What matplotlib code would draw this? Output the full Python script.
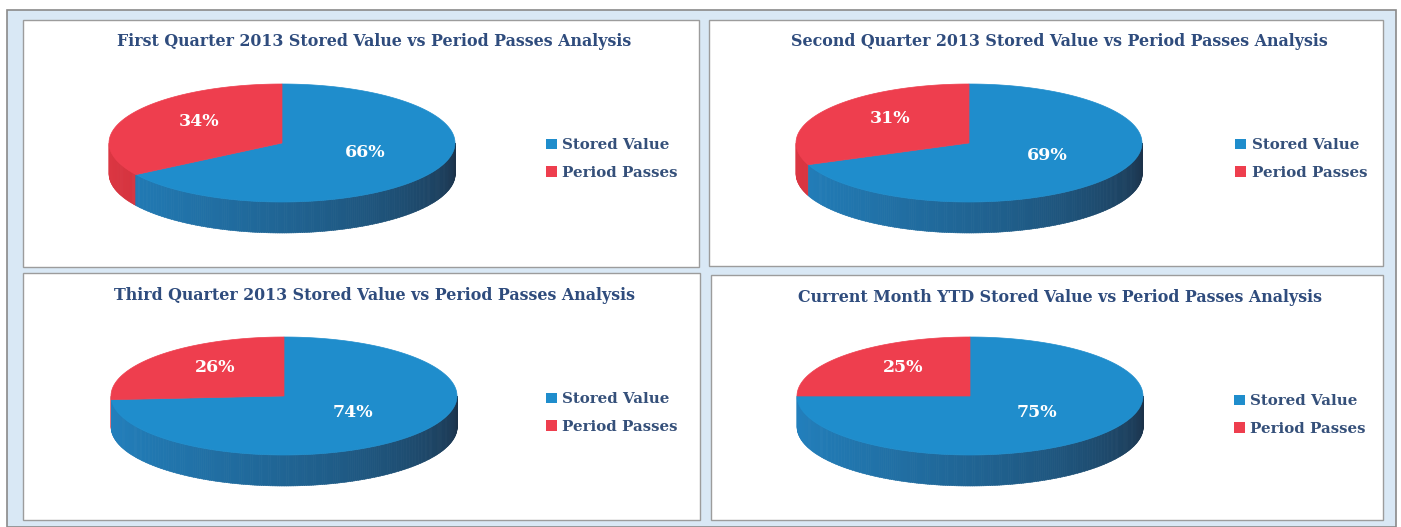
import numpy as np
import matplotlib
matplotlib.use("Agg")
import matplotlib.pyplot as plt
from matplotlib.patches import Polygon, Rectangle, Patch
from matplotlib.legend import Legend
from matplotlib.colors import to_rgb

# ---------------- data ----------------
titles = [
    "First Quarter 2013 Stored Value vs Period Passes Analysis",
    "Second Quarter 2013 Stored Value vs Period Passes Analysis",
    "Third Quarter 2013 Stored Value vs Period Passes Analysis",
    "Current Month YTD Stored Value vs Period Passes Analysis",
]
categories = ["Stored Value", "Period Passes"]
stored_value = [66, 69, 74, 75]
period_passes = [34, 31, 26, 25]

# ---------------- style / layout ----------------
W, H = 1401, 527
BLUE = "#1f8dcc"
RED = "#ee3e4e"
WALL_BLUE_L = "#2280bd"
WALL_BLUE_R = "#1c3249"
WALL_RED_L = "#dc3642"
WALL_RED_R = "#7a1e25"
TITLE_C = "#2f4c7d"
LEG_C = "#35507a"
BAND = "#d9e8f5"

# panel boxes (x0, y0, x1, y1) in pixels, and pie geometry
panels = [
    dict(box=(23, 20, 699, 267), cx=282, cy=143, title_y=41, leg=(548, 146)),
    dict(box=(709, 20, 1383, 266), cx=969, cy=143, title_y=41, leg=(1237, 146)),
    dict(box=(23, 273, 700, 520), cx=284, cy=396, title_y=296, leg=(548, 400)),
    dict(box=(711, 275, 1383, 520), cx=970, cy=396, title_y=298, leg=(1236, 402)),
]
A, B, DEPTH = 173, 59, 31

fig = plt.figure(figsize=(W / 100, H / 100), dpi=100)
ax = fig.add_axes([0, 0, 1, 1])
ax.set_xlim(0, W)
ax.set_ylim(H, 0)
ax.axis("off")

# background band and outer border
ax.add_patch(Rectangle((7, 10), W - 12, H - 10, facecolor=BAND, edgecolor="#8a8a8a", lw=1.2, zorder=0))


def mix(c1, c2, t):
    a, b = np.array(to_rgb(c1)), np.array(to_rgb(c2))
    return tuple(a + (b - a) * t)


def pt(cx, cy, t):
    r = np.deg2rad(t)
    return cx + A * np.cos(r), cy - B * np.sin(r)


for i, p in enumerate(panels):
    x0, y0, x1, y1 = p["box"]
    ax.add_patch(Rectangle((x0, y0), x1 - x0, y1 - y0, facecolor="white",
                           edgecolor="#9c9c9c", lw=1.0, zorder=1))
    ax.text((x0 + x1) / 2 + 13, p["title_y"], titles[i], ha="center", va="center",
            fontsize=11.4, fontweight="bold", family="DejaVu Serif", color=TITLE_C, zorder=5)

    vals = np.array([stored_value[i], period_passes[i]], dtype=float)
    fr = vals / vals.sum()
    cx, cy = p["cx"], p["cy"]
    # slice angle ranges (clockwise from 12 o'clock): stored value then period passes
    b1 = 90 - 360 * fr[0]
    ranges = [(b1, 90), (-270, b1)]  # (start, end) increasing
    cols = [BLUE, RED]

    # side wall with gradient (visible for angles 180..360)
    n = 240
    ts = np.linspace(180, 360, n + 1)
    for k in range(n):
        t0, t1 = ts[k], ts[k + 1]
        tm = (t0 + t1) / 2
        tn = tm - 360  # map to (-180, 0]
        in_blue = b1 <= tn <= 90
        frac = (tm - 180) / 180
        shade = frac ** 1.5
        c = mix(WALL_BLUE_L, WALL_BLUE_R, shade) if in_blue else mix(WALL_RED_L, WALL_RED_R, shade)
        xa, ya = pt(cx, cy, t0)
        xb, yb = pt(cx, cy, t1)
        quad = [(xa, ya), (xb + 0.3, yb), (xb + 0.3, yb + DEPTH), (xa, ya + DEPTH)]
        ax.add_patch(Polygon(quad, closed=True, facecolor=c, edgecolor=c, lw=0.4, zorder=2))

    # top face slices
    for (s, e), c in zip(ranges, cols):
        tt = np.linspace(s, e, 200)
        xs, ys = pt(cx, cy, tt)
        verts = [(cx, cy)] + list(zip(xs, ys))
        ax.add_patch(Polygon(verts, closed=True, facecolor=c, edgecolor=c, lw=0.5, zorder=3))

    # percentage labels
    labels = [f"{stored_value[i]}%", f"{period_passes[i]}%"]
    for (s, e), lab in zip(ranges, labels):
        m = np.deg2rad((s + e) / 2)
        lx = cx + 0.55 * A * np.cos(m)
        ly = cy - 6 - 0.55 * B * np.sin(m)
        ax.text(lx, ly, lab, ha="center", va="center", fontsize=12.5, fontweight="bold",
                family="DejaVu Serif", color="white", zorder=6)

    # legend
    handles = [Patch(facecolor=BLUE, edgecolor="none"), Patch(facecolor=RED, edgecolor="none")]
    lx, ly = p["leg"]
    leg = Legend(ax, handles, categories, loc="center left",
                 bbox_to_anchor=(lx - 8, ly + 13), bbox_transform=ax.transData,
                 frameon=False, handlelength=0.7, handleheight=0.7, handletextpad=0.4,
                 labelspacing=0.88, borderaxespad=0,
                 prop=dict(family="DejaVu Serif", weight="bold", size=10.8))
    for t in leg.get_texts():
        t.set_color(LEG_C)
    leg.set_zorder(7)
    ax.add_artist(leg)

fig.savefig("out.png", dpi=100)
